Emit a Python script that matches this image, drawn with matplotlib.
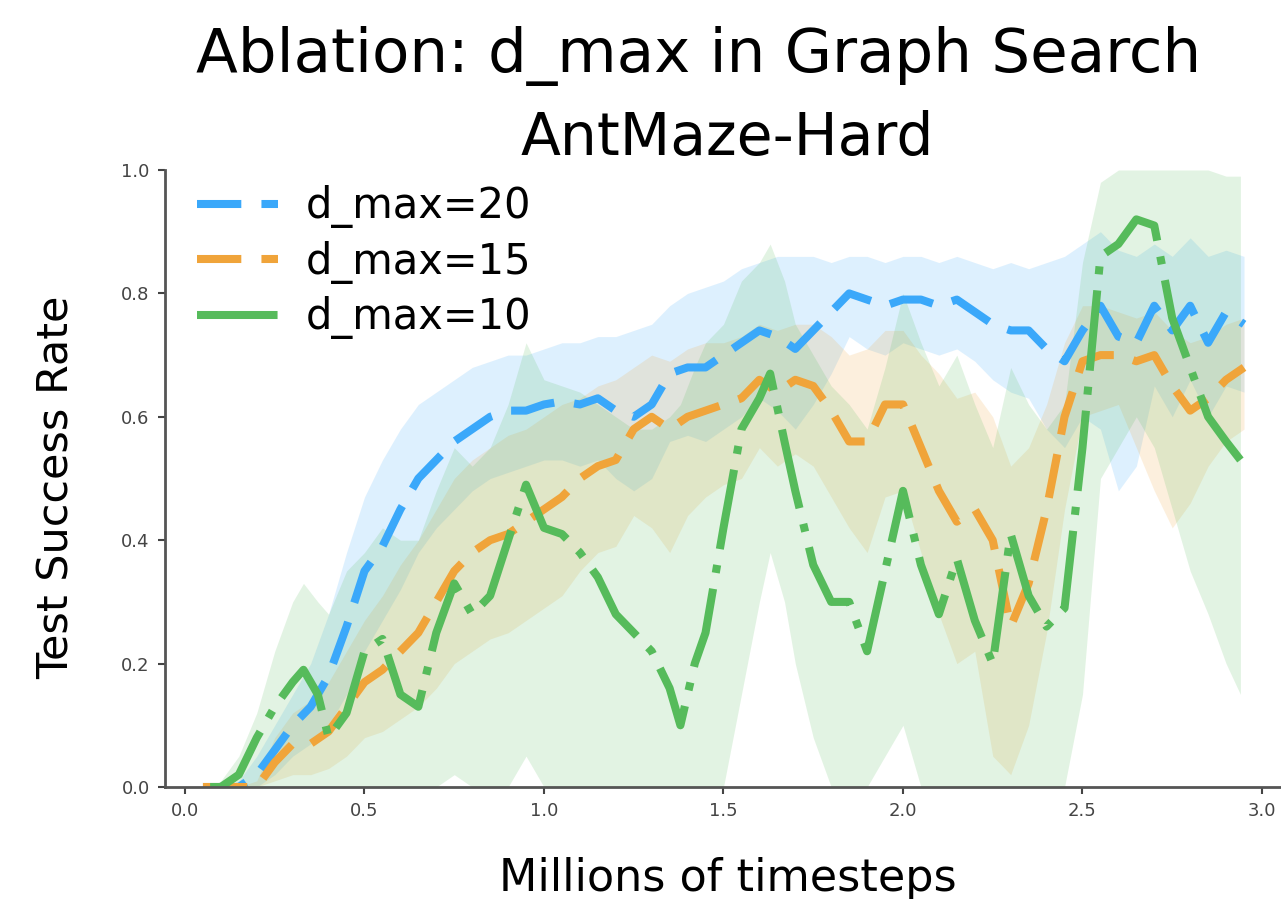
import numpy as np
import matplotlib
matplotlib.use("Agg")
import matplotlib.pyplot as plt

# x grid (millions of timesteps) for d_max=20 and d_max=15
x = [0.05, 0.10, 0.15, 0.20, 0.25, 0.30, 0.35, 0.40, 0.45, 0.50,
     0.55, 0.60, 0.65, 0.70, 0.75, 0.80, 0.85, 0.90, 0.95, 1.00,
     1.05, 1.10, 1.15, 1.20, 1.25, 1.30, 1.35, 1.40, 1.45, 1.50,
     1.55, 1.60, 1.65, 1.70, 1.75, 1.80, 1.85, 1.90, 1.95, 2.00,
     2.05, 2.10, 2.15, 2.20, 2.25, 2.30, 2.35, 2.40, 2.45, 2.50,
     2.55, 2.60, 2.65, 2.70, 2.75, 2.80, 2.85, 2.90, 2.95]

# d_max=20
blue_mean = [0.00, 0.00, 0.00, 0.02, 0.06, 0.10, 0.13, 0.18, 0.26, 0.35,
             0.39, 0.45, 0.50, 0.53, 0.56, 0.58, 0.60, 0.61, 0.61, 0.62,
             0.625, 0.62, 0.63, 0.61, 0.60, 0.62, 0.67, 0.68, 0.68, 0.70,
             0.72, 0.74, 0.73, 0.71, 0.74, 0.77, 0.80, 0.79, 0.78, 0.79,
             0.79, 0.78, 0.79, 0.77, 0.75, 0.74, 0.74, 0.71, 0.69, 0.74,
             0.78, 0.73, 0.72, 0.78, 0.74, 0.78, 0.72, 0.77, 0.75]
blue_hi = [0.00, 0.00, 0.01, 0.05, 0.10, 0.15, 0.20, 0.28, 0.38, 0.47,
           0.53, 0.58, 0.62, 0.64, 0.66, 0.68, 0.69, 0.70, 0.70, 0.71,
           0.72, 0.72, 0.73, 0.73, 0.74, 0.75, 0.78, 0.80, 0.81, 0.82,
           0.84, 0.85, 0.86, 0.86, 0.86, 0.85, 0.86, 0.86, 0.85, 0.86,
           0.86, 0.85, 0.86, 0.85, 0.84, 0.85, 0.84, 0.85, 0.86, 0.88,
           0.90, 0.87, 0.86, 0.88, 0.86, 0.89, 0.86, 0.87, 0.86]
blue_lo = [0.00, 0.00, 0.00, 0.00, 0.02, 0.05, 0.07, 0.10, 0.15, 0.22,
           0.27, 0.32, 0.38, 0.42, 0.45, 0.48, 0.50, 0.51, 0.52, 0.53,
           0.53, 0.52, 0.53, 0.50, 0.48, 0.50, 0.56, 0.57, 0.56, 0.58,
           0.60, 0.63, 0.61, 0.58, 0.62, 0.67, 0.73, 0.71, 0.70, 0.72,
           0.71, 0.70, 0.71, 0.69, 0.66, 0.64, 0.63, 0.58, 0.55, 0.60,
           0.58, 0.48, 0.52, 0.65, 0.60, 0.66, 0.60, 0.65, 0.64]

# d_max=15
orange_mean = [0.00, 0.00, 0.00, 0.00, 0.04, 0.07, 0.07, 0.09, 0.13, 0.17,
               0.19, 0.22, 0.25, 0.30, 0.35, 0.38, 0.40, 0.41, 0.43, 0.45,
               0.47, 0.50, 0.52, 0.53, 0.58, 0.60, 0.58, 0.60, 0.61, 0.62,
               0.63, 0.66, 0.64, 0.66, 0.65, 0.61, 0.56, 0.56, 0.62, 0.62,
               0.55, 0.48, 0.43, 0.45, 0.40, 0.26, 0.33, 0.45, 0.60, 0.69,
               0.70, 0.70, 0.69, 0.70, 0.65, 0.61, 0.63, 0.66, 0.68]
orange_hi = [0.00, 0.00, 0.00, 0.01, 0.08, 0.12, 0.14, 0.17, 0.22, 0.27,
             0.31, 0.36, 0.40, 0.45, 0.50, 0.53, 0.55, 0.57, 0.58, 0.60,
             0.62, 0.63, 0.65, 0.66, 0.68, 0.70, 0.69, 0.71, 0.72, 0.72,
             0.73, 0.75, 0.74, 0.75, 0.75, 0.73, 0.70, 0.71, 0.74, 0.74,
             0.70, 0.67, 0.63, 0.64, 0.60, 0.52, 0.55, 0.62, 0.72, 0.78,
             0.78, 0.77, 0.76, 0.77, 0.74, 0.72, 0.73, 0.75, 0.76]
orange_lo = [0.00, 0.00, 0.00, 0.00, 0.01, 0.02, 0.02, 0.03, 0.05, 0.08,
             0.09, 0.11, 0.13, 0.16, 0.20, 0.22, 0.24, 0.25, 0.27, 0.29,
             0.31, 0.35, 0.38, 0.39, 0.44, 0.42, 0.38, 0.44, 0.47, 0.49,
             0.50, 0.55, 0.52, 0.54, 0.52, 0.47, 0.42, 0.38, 0.47, 0.48,
             0.38, 0.28, 0.20, 0.22, 0.05, 0.02, 0.10, 0.25, 0.45, 0.60,
             0.61, 0.62, 0.55, 0.48, 0.42, 0.46, 0.52, 0.56, 0.58]

# d_max=10 (own grid, it is much more jagged)
green_x = [0.07, 0.10, 0.15, 0.20, 0.25, 0.30, 0.33, 0.37, 0.40, 0.45,
           0.50, 0.55, 0.60, 0.65, 0.70, 0.75, 0.80, 0.85, 0.90, 0.95,
           1.00, 1.05, 1.10, 1.15, 1.20, 1.25, 1.30, 1.35, 1.38, 1.42,
           1.45, 1.50, 1.55, 1.60, 1.63, 1.67, 1.70, 1.75, 1.80, 1.85,
           1.90, 1.95, 2.00, 2.05, 2.10, 2.15, 2.20, 2.25, 2.30, 2.35,
           2.40, 2.45, 2.50, 2.55, 2.60, 2.65, 2.70, 2.75, 2.80, 2.85,
           2.90, 2.94]
green_mean = [0.00, 0.00, 0.02, 0.08, 0.13, 0.17, 0.19, 0.15, 0.08, 0.12,
              0.22, 0.24, 0.15, 0.13, 0.25, 0.33, 0.28, 0.31, 0.40, 0.49,
              0.42, 0.41, 0.38, 0.34, 0.28, 0.25, 0.22, 0.16, 0.10, 0.20,
              0.25, 0.42, 0.58, 0.63, 0.67, 0.56, 0.48, 0.36, 0.30, 0.30,
              0.22, 0.35, 0.48, 0.36, 0.28, 0.37, 0.27, 0.20, 0.41, 0.31,
              0.26, 0.29, 0.55, 0.86, 0.88, 0.92, 0.91, 0.76, 0.68, 0.60,
              0.56, 0.53]
green_hi = [0.00, 0.01, 0.05, 0.12, 0.22, 0.30, 0.33, 0.30, 0.28, 0.35,
            0.38, 0.42, 0.40, 0.40, 0.48, 0.55, 0.52, 0.55, 0.62, 0.72,
            0.66, 0.65, 0.64, 0.62, 0.60, 0.58, 0.58, 0.60, 0.62, 0.68,
            0.72, 0.75, 0.82, 0.85, 0.88, 0.82, 0.75, 0.70, 0.65, 0.62,
            0.58, 0.68, 0.80, 0.72, 0.65, 0.70, 0.62, 0.55, 0.68, 0.62,
            0.58, 0.62, 0.85, 0.98, 1.00, 1.00, 1.00, 1.00, 1.00, 1.00,
            0.99, 0.99]
green_lo = [0.00, 0.00, 0.00, 0.00, 0.00, 0.00, 0.00, 0.00, 0.00, 0.00,
            0.00, 0.00, 0.00, 0.00, 0.00, 0.02, 0.00, 0.00, 0.00, 0.05,
            0.00, 0.00, 0.00, 0.00, 0.00, 0.00, 0.00, 0.00, 0.00, 0.00,
            0.00, 0.00, 0.15, 0.30, 0.38, 0.30, 0.20, 0.08, 0.00, 0.00,
            0.00, 0.05, 0.10, 0.00, 0.00, 0.00, 0.00, 0.00, 0.00, 0.00,
            0.00, 0.00, 0.15, 0.50, 0.55, 0.60, 0.55, 0.45, 0.35, 0.28,
            0.20, 0.15]

labels = ["d_max=20", "d_max=15", "d_max=10"]
colors = ["#3aa8fa", "#f0a43a", "#56bb5b"]

fig = plt.figure(figsize=(12.81, 8.99), dpi=100)
ax = fig.add_axes([165 / 1281, 1 - 787 / 899, 1116 / 1281, 617 / 899])

series = [
    (x, blue_mean, blue_lo, blue_hi),
    (x, orange_mean, orange_lo, orange_hi),
    (green_x, green_mean, green_lo, green_hi),
]
styles = [(0, (5.5, 2.5)), (0, (5.5, 2.5)), (0, (10, 2, 1, 2))]

# bands first, then the mean lines on top
for (xs, m, lo, hi), c in zip(series, colors):
    ax.fill_between(xs, lo, hi, color=c, alpha=0.17, linewidth=0)
for (xs, m, lo, hi), c, ls, lab in zip(series, colors, styles, labels):
    ax.plot(xs, m, color=c, lw=5.8, linestyle=ls, label=lab)

ax.set_xlim(-0.0557, 3.053)
ax.set_ylim(0, 1.0)
ax.set_xticks([0.0, 0.5, 1.0, 1.5, 2.0, 2.5, 3.0])
ax.set_yticks([0.0, 0.2, 0.4, 0.6, 0.8, 1.0])
ax.xaxis.set_major_formatter(matplotlib.ticker.FormatStrFormatter("%.1f"))
ax.yaxis.set_major_formatter(matplotlib.ticker.FormatStrFormatter("%.1f"))
ax.tick_params(labelsize=13, length=5, width=1.5, colors="#444444", pad=6)

for s in ["top", "right"]:
    ax.spines[s].set_visible(False)
for s in ["left", "bottom"]:
    ax.spines[s].set_linewidth(2)
    ax.spines[s].set_color("#555555")

ax.set_xlabel("Millions of timesteps", fontsize=32)
ax.xaxis.set_label_coords(0.504, -0.114)
ax.set_ylabel("Test Success Rate", fontsize=31)
ax.yaxis.set_label_coords(-0.078, 0.486)

ax.legend(loc="upper left", bbox_to_anchor=(0.0287, 0.975), frameon=False,
          fontsize=30, handlelength=1.95, handletextpad=0.65,
          labelspacing=0.3, borderpad=0, borderaxespad=0)

fig.text(699 / 1281, 1 - 72 / 899, "Ablation: d_max in Graph Search",
         fontsize=44, ha="center", va="baseline")
fig.text(727 / 1281, 1 - 155 / 899, "AntMaze-Hard",
         fontsize=42, ha="center", va="baseline")

plt.savefig("out.png", dpi=100)
